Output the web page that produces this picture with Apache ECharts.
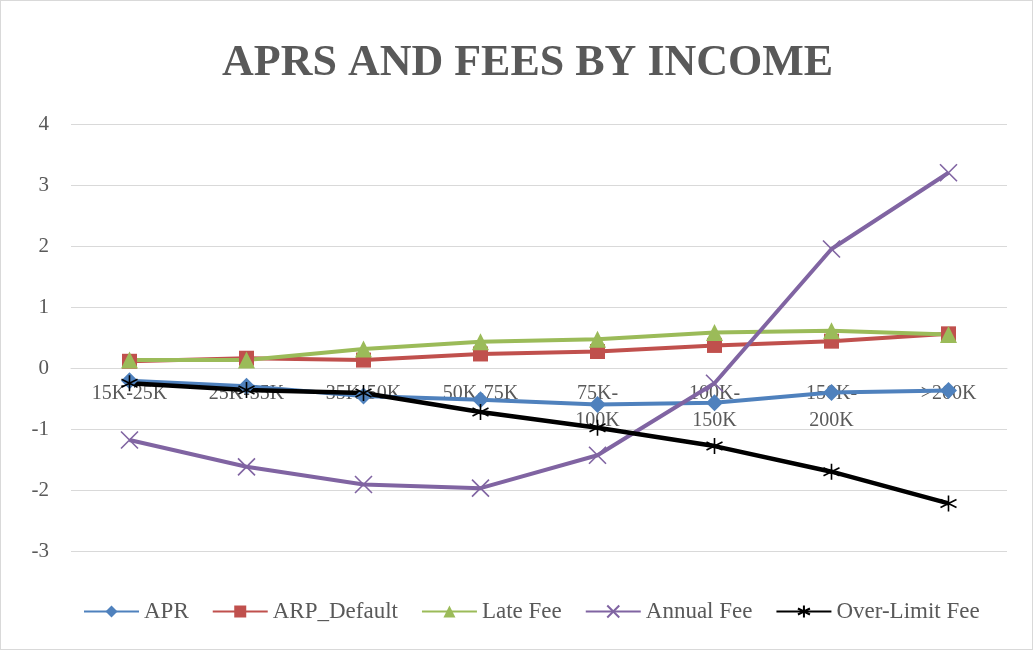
<!DOCTYPE html>
<html>
<head>
<meta charset="utf-8">
<script src="https://cdn.jsdelivr.net/npm/echarts@6/dist/echarts.min.js"></script>
<style>
html,body{margin:0;padding:0;background:#fff;}
#wrap{width:1031px;height:648px;border:1px solid #d9d9d9;}
#chart{width:1031px;height:648px;}
</style>
</head>
<body>
<div id="wrap"><div id="chart"></div></div>
<script>
const title = 'APRS AND FEES BY INCOME';
const categories = ['15K-25K','25K-35K','35K-50K','50K-75K','75K-100K','100K-150K','150K-200K','>200K'];
const yTicks = { min: -3, max: 4, interval: 1 };
const apr = [-0.21, -0.30, -0.46, -0.52, -0.60, -0.57, -0.40, -0.37];
const arpDefault = [0.11, 0.16, 0.13, 0.23, 0.27, 0.37, 0.44, 0.56];
const lateFee = [0.13, 0.13, 0.31, 0.43, 0.47, 0.58, 0.61, 0.55];
const annualFee = [-1.18, -1.62, -1.91, -1.97, -1.43, -0.25, 1.95, 3.20];
const overLimitFee = [-0.25, -0.36, -0.41, -0.72, -0.98, -1.28, -1.70, -2.22];

const serif = '"Liberation Serif", "DejaVu Serif", serif';
const gray = '#595959';
const crossPath = 'path://M0,0L10,10M10,0L0,10';
const starPath = 'path://M5,0L5,10M0.67,2.5L9.33,7.5M0.67,7.5L9.33,2.5';

const gridTop = 123, gridBottom = 98, chartH = 648;
const plotH = chartH - gridTop - gridBottom;
// distance from bottom edge of plot to the value 0 (axis crosses at zero)
const zeroOffset = plotH * (0 - yTicks.min) / (yTicks.max - yTicks.min);

function mk(name, data, color, symbol, size, extra) {
  return Object.assign({
    name: name,
    type: 'line',
    data: data,
    symbol: symbol,
    symbolSize: size,
    lineStyle: { color: color, width: 4 },
    itemStyle: { color: color },
    emphasis: { disabled: true },
    animation: false
  }, extra || {});
}

const chart = echarts.init(document.getElementById('chart'));
chart.setOption({
  backgroundColor: '#fff',
  title: {
    text: title,
    left: 216,
    top: 36,
    textStyle: { fontFamily: serif, fontWeight: 'bold', fontSize: 44, color: gray }
  },
  legend: {
    left: 82,
    top: 599,
    padding: 0,
    itemWidth: 55,
    itemHeight: 15,
    itemGap: 23,
    textStyle: { fontFamily: serif, fontSize: 23, color: gray },
    data: ['APR', 'ARP_Default', 'Late Fee', 'Annual Fee', 'Over-Limit Fee']
  },
  grid: { left: 70, right: 25, top: gridTop, bottom: gridBottom, containLabel: false },
  xAxis: {
    type: 'category',
    data: categories,
    boundaryGap: true,
    offset: -zeroOffset,
    z: 0,
    axisLine: { onZero: false, lineStyle: { color: '#d9d9d9', width: 1 } },
    axisTick: { show: false },
    axisLabel: {
      margin: 12,
      fontFamily: serif,
      fontSize: 20,
      color: gray,
      lineHeight: 27,
      interval: 0,
      formatter: function (v) { return v.length > 7 ? v.replace('-', '-\n') : v; }
    },
    splitLine: { show: false }
  },
  yAxis: {
    type: 'value',
    min: yTicks.min,
    max: yTicks.max,
    interval: yTicks.interval,
    axisLine: { show: false },
    axisTick: { show: false },
    axisLabel: { margin: 22, fontFamily: serif, fontSize: 21, color: gray },
    splitLine: { lineStyle: { color: '#d9d9d9', width: 1 } }
  },
  series: [
    mk('APR', apr, '#4F81BD', 'diamond', 17),
    mk('ARP_Default', arpDefault, '#C0504D', 'rect', 15),
    mk('Late Fee', lateFee, '#9BBB59', 'triangle', 17),
    mk('Annual Fee', annualFee, '#8064A2', crossPath, 17, {
      itemStyle: { color: '#8064A2', borderColor: '#8064A2', borderWidth: 1.6 }
    }),
    mk('Over-Limit Fee', overLimitFee, '#000000', starPath, 16, {
      lineStyle: { color: '#000000', width: 4.5 },
      itemStyle: { color: '#000000', borderColor: '#000000', borderWidth: 1.6 }
    })
  ]
});
</script>
</body>
</html>
